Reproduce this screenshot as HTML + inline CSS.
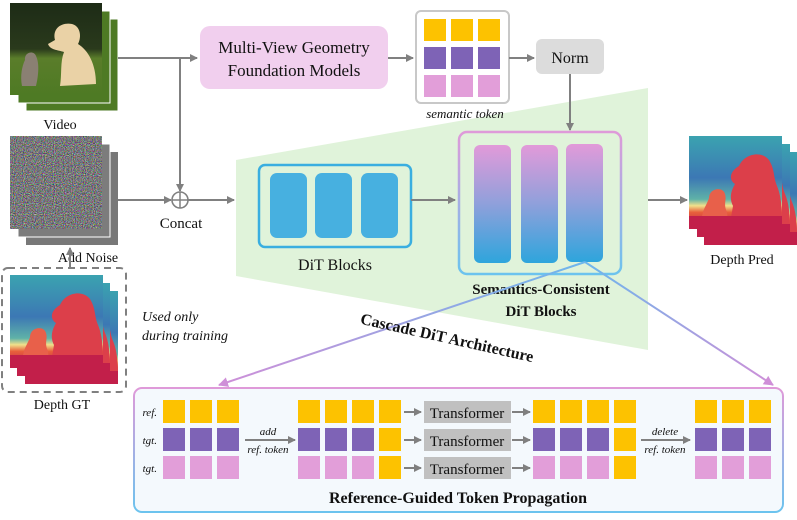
<!DOCTYPE html>
<html><head><meta charset="utf-8"><style>
html,body{margin:0;padding:0;background:#fff;}
svg{display:block;}
text{font-family:"Liberation Serif",serif;fill:#111;}
</style></head><body>
<svg width="797" height="520" viewBox="0 0 797 520" xmlns="http://www.w3.org/2000/svg">
<defs>
<marker id="ah" markerWidth="8" markerHeight="8" refX="7" refY="4" orient="auto" markerUnits="userSpaceOnUse"><path d="M0,0 L8,4 L0,8 Z" fill="#808080"/></marker>
<marker id="ahp" markerWidth="10" markerHeight="10" refX="9" refY="5" orient="auto" markerUnits="userSpaceOnUse"><path d="M0,0 L10,5 L0,10 Z" fill="#cf8fd8"/></marker>
<linearGradient id="blk" x1="0" y1="0" x2="0" y2="1"><stop offset="0" stop-color="#e29ad9"/><stop offset="0.5" stop-color="#8fa0db"/><stop offset="1" stop-color="#2ea5dc"/></linearGradient>
<linearGradient id="sc" x1="0" y1="0" x2="0" y2="1"><stop offset="0" stop-color="#df9ad9"/><stop offset="1" stop-color="#6cc3ee"/></linearGradient>
<linearGradient id="cas" gradientUnits="userSpaceOnUse" x1="585" y1="262" x2="218" y2="385"><stop offset="0" stop-color="#6db6ec"/><stop offset="1" stop-color="#cf8fd8"/></linearGradient>
<linearGradient id="cas2" gradientUnits="userSpaceOnUse" x1="585" y1="262" x2="773" y2="385"><stop offset="0" stop-color="#6db6ec"/><stop offset="1" stop-color="#cf8fd8"/></linearGradient>
<linearGradient id="photo" x1="0" y1="0" x2="0" y2="1"><stop offset="0" stop-color="#1d2b16"/><stop offset="0.5" stop-color="#2a3a1c"/><stop offset="0.6" stop-color="#5a7d2a"/><stop offset="1" stop-color="#4e7a24"/></linearGradient>
<linearGradient id="depth" x1="0" y1="0" x2="0" y2="1"><stop offset="0" stop-color="#3ba3b0"/><stop offset="0.45" stop-color="#3c78b4"/><stop offset="0.68" stop-color="#5fb2a8"/><stop offset="0.75" stop-color="#f1e08a"/><stop offset="0.82" stop-color="#e8603c"/><stop offset="1" stop-color="#b8184a"/></linearGradient>
<filter id="noise" x="0" y="0" width="1" height="1" color-interpolation-filters="sRGB"><feTurbulence type="fractalNoise" baseFrequency="0.9" numOctaves="2" seed="3"/><feColorMatrix type="matrix" values="1.2 0 0 0 -0.13  0 1.2 0 0 -0.13  0 0 1.2 0 -0.12  0 0 0 0 1"/></filter>
<g id="dep">
<rect x="0" y="0" width="93" height="93" fill="url(#depth)"/>
<path d="M50,30 C55,18 72,14 80,24 C86,34 84,40 88,50 C93,62 93,75 93,93 L40,93 L44,70 C40,62 42,55 46,48 C40,44 40,36 50,30 Z" fill="#dc3f4a"/>
<path d="M20,62 C20,52 34,50 36,58 C38,64 34,68 38,76 L40,93 L10,93 L14,76 C16,70 18,68 20,62 Z" fill="#e8604a"/>
<rect x="0" y="80" width="93" height="13" fill="#c21f4a"/>
</g>
</defs>

<polygon points="236,160 648,88 648,350 236,276" fill="#e0f3da"/>

<!-- video stack -->
<rect x="26" y="19" width="92" height="92" fill="#4e7a24" stroke="#fff" stroke-width="1"/>
<rect x="18" y="11" width="92" height="92" fill="#4e7a24" stroke="#fff" stroke-width="1"/>
<rect x="10" y="3" width="92" height="92" fill="url(#photo)"/>
<path d="M55,40 C52,28 62,22 72,24 C80,26 82,36 78,44 C88,50 96,64 96,84 L60,86 C62,74 60,62 64,52 C58,50 50,50 48,44 Z" fill="#ead2a6"/>
<path d="M25,60 C24,52 34,50 36,56 C40,64 38,78 36,86 L22,86 C20,76 22,66 25,60 Z" fill="#8a8073"/>
<text x="60" y="129" font-size="14" text-anchor="middle">Video</text>

<!-- noise stack -->
<rect x="26" y="152" width="92" height="93" fill="#787878"/>
<rect x="18" y="144" width="92" height="93" fill="#7c7c7c" stroke="#fff"/>
<rect x="10" y="136" width="92" height="93" fill="#7a7a7a" filter="url(#noise)"/>
<text x="88" y="262" font-size="14" text-anchor="middle">Add Noise</text>
<line x1="70" y1="268" x2="70" y2="248" stroke="#808080" stroke-width="2" marker-end="url(#ah)"/>

<!-- depth GT -->
<rect x="2" y="268" width="124" height="124" rx="6" fill="none" stroke="#808080" stroke-width="2" stroke-dasharray="7,5"/>
<use href="#dep" x="25" y="291"/>
<use href="#dep" x="17" y="283"/>
<use href="#dep" x="10" y="275"/>
<text x="62" y="409" font-size="14" text-anchor="middle">Depth GT</text>
<text x="142" y="321" font-size="14" font-style="italic">Used only</text>
<text x="142" y="340" font-size="14" font-style="italic">during training</text>

<line x1="118" y1="58" x2="197" y2="58" stroke="#808080" stroke-width="2" marker-end="url(#ah)"/>
<line x1="180" y1="58" x2="180" y2="191" stroke="#808080" stroke-width="2" marker-end="url(#ah)"/>
<line x1="118" y1="200" x2="171" y2="200" stroke="#808080" stroke-width="2" marker-end="url(#ah)"/>
<circle cx="180" cy="200" r="8" fill="#fff" stroke="#808080" stroke-width="1.6"/>
<line x1="172" y1="200" x2="188" y2="200" stroke="#808080" stroke-width="1.5"/>
<line x1="180" y1="192" x2="180" y2="208" stroke="#808080" stroke-width="1.5"/>
<line x1="188" y1="200" x2="234" y2="200" stroke="#808080" stroke-width="2" marker-end="url(#ah)"/>
<text x="181" y="228" font-size="15" text-anchor="middle">Concat</text>

<rect x="200" y="26" width="188" height="63" rx="10" fill="#f1cfee"/>
<text x="294" y="53" font-size="17" text-anchor="middle">Multi-View Geometry</text>
<text x="294" y="76" font-size="17" text-anchor="middle">Foundation Models</text>
<line x1="388" y1="58" x2="413" y2="58" stroke="#808080" stroke-width="2" marker-end="url(#ah)"/>

<rect x="416" y="11" width="93" height="92" rx="5" fill="#fff" stroke="#c8c8c8" stroke-width="2"/>
<g fill="#fdc200"><rect x="424" y="19" width="22" height="22"/><rect x="451" y="19" width="22" height="22"/><rect x="478" y="19" width="22" height="22"/></g>
<g fill="#7e63b6"><rect x="424" y="47" width="22" height="22"/><rect x="451" y="47" width="22" height="22"/><rect x="478" y="47" width="22" height="22"/></g>
<g fill="#e29ed9"><rect x="424" y="75" width="22" height="22"/><rect x="451" y="75" width="22" height="22"/><rect x="478" y="75" width="22" height="22"/></g>
<text x="465" y="118" font-size="13" font-style="italic" text-anchor="middle">semantic token</text>
<line x1="509" y1="58" x2="534" y2="58" stroke="#808080" stroke-width="2" marker-end="url(#ah)"/>
<rect x="536" y="39" width="68" height="35" rx="6" fill="#dcdcdc"/>
<text x="570" y="63" font-size="16" text-anchor="middle">Norm</text>
<line x1="570" y1="74" x2="570" y2="130" stroke="#808080" stroke-width="2" marker-end="url(#ah)"/>

<rect x="259" y="165" width="152" height="82" rx="6" fill="none" stroke="#3aaee0" stroke-width="2.5"/>
<rect x="270" y="173" width="37" height="65" rx="7" fill="#47b0e0"/>
<rect x="315" y="173" width="37" height="65" rx="7" fill="#47b0e0"/>
<rect x="361" y="173" width="37" height="65" rx="7" fill="#47b0e0"/>
<text x="335" y="270" font-size="16" text-anchor="middle">DiT Blocks</text>
<line x1="411" y1="200" x2="455" y2="200" stroke="#808080" stroke-width="2" marker-end="url(#ah)"/>

<rect x="459" y="132" width="162" height="142" rx="8" fill="none" stroke="url(#sc)" stroke-width="2.5"/>
<rect x="474" y="145" width="37" height="118" rx="6" fill="url(#blk)"/>
<rect x="521" y="145" width="37" height="118" rx="6" fill="url(#blk)"/>
<rect x="566" y="144" width="37" height="118" rx="6" fill="url(#blk)"/>
<text x="541" y="294" font-size="15" font-weight="bold" text-anchor="middle">Semantics-Consistent</text>
<text x="541" y="316" font-size="15" font-weight="bold" text-anchor="middle">DiT Blocks</text>
<line x1="648" y1="200" x2="687" y2="200" stroke="#808080" stroke-width="2" marker-end="url(#ah)"/>

<use href="#dep" x="704" y="152"/>
<use href="#dep" x="697" y="144"/>
<use href="#dep" x="689" y="136"/>
<text x="742" y="264" font-size="14" text-anchor="middle">Depth Pred</text>

<line x1="585" y1="262" x2="219" y2="385" stroke="url(#cas)" stroke-width="2" marker-end="url(#ahp)"/>
<line x1="585" y1="262" x2="773" y2="385" stroke="url(#cas2)" stroke-width="2" marker-end="url(#ahp)"/>
<text x="447" y="343" font-size="16" font-weight="bold" text-anchor="middle" transform="rotate(12.6 447 338)">Cascade DiT Architecture</text>

<rect x="134" y="388" width="649" height="124" rx="8" fill="#f4f9fd" stroke="url(#sc)" stroke-width="2"/>
<g font-size="11" font-style="italic" text-anchor="end">
<text x="157" y="416">ref.</text><text x="157" y="444">tgt.</text><text x="157" y="472">tgt.</text>
</g>
<g fill="#fdc200"><rect x="163" y="400" width="22" height="23"/><rect x="190" y="400" width="22" height="23"/><rect x="217" y="400" width="22" height="23"/></g>
<g fill="#7e63b6"><rect x="163" y="428" width="22" height="23"/><rect x="190" y="428" width="22" height="23"/><rect x="217" y="428" width="22" height="23"/></g>
<g fill="#e29ed9"><rect x="163" y="456" width="22" height="23"/><rect x="190" y="456" width="22" height="23"/><rect x="217" y="456" width="22" height="23"/></g>
<line x1="245" y1="440" x2="295" y2="440" stroke="#808080" stroke-width="2" marker-end="url(#ah)"/>
<text x="268" y="435" font-size="11" font-style="italic" text-anchor="middle">add</text>
<text x="268" y="453" font-size="11" font-style="italic" text-anchor="middle">ref. token</text>
<g fill="#fdc200"><rect x="298" y="400" width="22" height="23"/><rect x="325" y="400" width="22" height="23"/><rect x="352" y="400" width="22" height="23"/><rect x="379" y="400" width="22" height="23"/><rect x="379" y="428" width="22" height="23"/><rect x="379" y="456" width="22" height="23"/></g>
<g fill="#7e63b6"><rect x="298" y="428" width="22" height="23"/><rect x="325" y="428" width="22" height="23"/><rect x="352" y="428" width="22" height="23"/></g>
<g fill="#e29ed9"><rect x="298" y="456" width="22" height="23"/><rect x="325" y="456" width="22" height="23"/><rect x="352" y="456" width="22" height="23"/></g>
<g stroke="#808080" stroke-width="2">
<line x1="404" y1="412" x2="421" y2="412" marker-end="url(#ah)"/><line x1="404" y1="440" x2="421" y2="440" marker-end="url(#ah)"/><line x1="404" y1="468" x2="421" y2="468" marker-end="url(#ah)"/>
<line x1="512" y1="412" x2="530" y2="412" marker-end="url(#ah)"/><line x1="512" y1="440" x2="530" y2="440" marker-end="url(#ah)"/><line x1="512" y1="468" x2="530" y2="468" marker-end="url(#ah)"/>
</g>
<g fill="#c0c0c0"><rect x="424" y="401" width="87" height="22"/><rect x="424" y="429" width="87" height="22"/><rect x="424" y="457" width="87" height="22"/></g>
<g font-size="15" text-anchor="middle"><text x="467" y="418">Transformer</text><text x="467" y="446">Transformer</text><text x="467" y="474">Transformer</text></g>
<g fill="#fdc200"><rect x="533" y="400" width="22" height="23"/><rect x="560" y="400" width="22" height="23"/><rect x="587" y="400" width="22" height="23"/><rect x="614" y="400" width="22" height="23"/><rect x="614" y="428" width="22" height="23"/><rect x="614" y="456" width="22" height="23"/></g>
<g fill="#7e63b6"><rect x="533" y="428" width="22" height="23"/><rect x="560" y="428" width="22" height="23"/><rect x="587" y="428" width="22" height="23"/></g>
<g fill="#e29ed9"><rect x="533" y="456" width="22" height="23"/><rect x="560" y="456" width="22" height="23"/><rect x="587" y="456" width="22" height="23"/></g>
<line x1="641" y1="440" x2="690" y2="440" stroke="#808080" stroke-width="2" marker-end="url(#ah)"/>
<text x="665" y="435" font-size="11" font-style="italic" text-anchor="middle">delete</text>
<text x="665" y="453" font-size="11" font-style="italic" text-anchor="middle">ref. token</text>
<g fill="#fdc200"><rect x="695" y="400" width="22" height="23"/><rect x="722" y="400" width="22" height="23"/><rect x="749" y="400" width="22" height="23"/></g>
<g fill="#7e63b6"><rect x="695" y="428" width="22" height="23"/><rect x="722" y="428" width="22" height="23"/><rect x="749" y="428" width="22" height="23"/></g>
<g fill="#e29ed9"><rect x="695" y="456" width="22" height="23"/><rect x="722" y="456" width="22" height="23"/><rect x="749" y="456" width="22" height="23"/></g>
<text x="458" y="503" font-size="16" font-weight="bold" text-anchor="middle">Reference-Guided Token Propagation</text>
</svg>
</body></html>
